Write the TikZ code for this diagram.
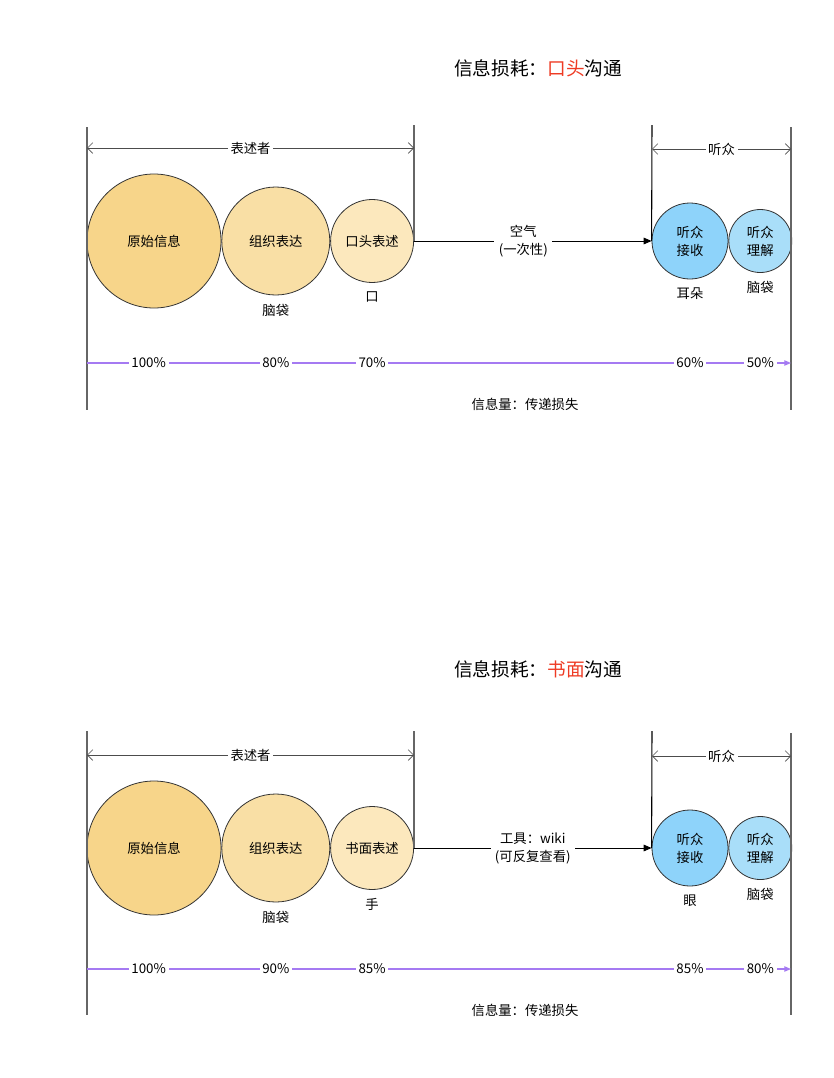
\documentclass[tikz,border=0pt]{standalone}
\usepackage{fontspec}
\setmainfont{Noto Sans CJK SC}
\usepackage{tikz}
\usetikzlibrary{arrows.meta, positioning}

\definecolor{sandA}{HTML}{F7D58A}
\definecolor{sandB}{HTML}{F9DFA5}
\definecolor{sandC}{HTML}{FCE8BD}
\definecolor{skyA}{HTML}{8ED3FA}
\definecolor{skyB}{HTML}{A9DEF9}
\definecolor{lossred}{HTML}{EE3B24}
\definecolor{lossline}{HTML}{A57AF2}

\begin{document}
\begin{tikzpicture}[
  x=0.75pt, y=-0.75pt,
  every node/.style={font=\fontsize{10}{13.5}\selectfont},
  bubble/.style={circle, draw=black!80, line width=0.6pt, inner sep=0pt, align=center},
  headline/.style={font=\fontsize{14}{17}\selectfont},
  guide/.style={black!60, line width=0.8pt},
  span/.style={{Straight Barb[length=4pt]}-{Straight Barb[length=4pt]}, black!70, line width=0.5pt},
  spantext/.style={fill=white, text=black, inner sep=2pt},
  arrow/.style={-{Triangle[length=6pt, width=5pt]}, line width=0.7pt},
  flow/.style={-{Triangle[length=5pt, width=4pt]}, draw=lossline, line width=0.9pt},
  pct/.style={fill=white, inner sep=2pt},
]
\useasboundingbox (0,0) rectangle (834,1078);

% ---------------- Oral communication ----------------
\node[headline] (head1) at (538,68) {信息损耗：\textcolor{lossred}{口头}沟通};

% Speaker side
\node[bubble, fill=sandA, minimum size=100.5pt] (src1) at (154,241) {原始信息};
\node[bubble, fill=sandB, minimum size=81pt, right=0pt of src1] (org1) {组织表达};
\node[bubble, fill=sandC, minimum size=62.25pt, right=0pt of org1] (say1) {口头表述};

% Listener side
\node[bubble, fill=skyA, minimum size=57pt] (recv1) at (690,241) {听众\\接收};
\node[bubble, fill=skyB, minimum size=47.25pt, right=0pt of recv1] (und1) {听众\\理解};

% Organ labels
\node[below=3pt of org1] {脑袋};
\node[below=3pt of say1] {口};
\node[below=3pt of recv1] {耳朵};
\node[below=3pt of und1] {脑袋};

% Guides
\coordinate (l1top) at (87,127);
\coordinate (l1bot) at (87,410);
\coordinate (r1top) at (791,127);
\coordinate (r1bot) at (791,410);
\coordinate (m1top) at (414,125);
\coordinate (n1top) at (652,125);
\draw[guide] (l1top) -- (l1bot);
\draw[guide] (r1top) -- (r1bot);
\draw[guide] (m1top) -- (say1.east);
\draw[guide, black] (n1top) -- (recv1.west);

% Spans
\coordinate (s1a) at (87,148);
\coordinate (s1b) at (414,148);
\coordinate (t1a) at (652,149);
\coordinate (t1b) at (791,149);
\draw[span] (s1a) -- node[spantext] {表述者} (s1b);
\draw[span] (t1a) -- node[spantext] {听众} (t1b);

% Channel
\draw[arrow] (say1) -- node[pos=0.46, fill=white, align=center] {空气\\(一次性)} (recv1);

% Amount of information
\coordinate (p1a) at (87,363);
\coordinate (p1b) at (791,363);
\draw[flow] (p1a) -- (p1b);
\node[pct, xshift=-4pt] at (src1 |- p1a) {100\%};
\node[pct] at (org1 |- p1a) {80\%};
\node[pct] at (say1 |- p1a) {70\%};
\node[pct] at (recv1 |- p1a) {60\%};
\node[pct] at (und1 |- p1a) {50\%};
\node (cap1) at (525,404) {信息量：传递损失};

% ---------------- Written communication ----------------
\node[headline] (head2) at (538,669) {信息损耗：\textcolor{lossred}{书面}沟通};

\begin{scope}[shift={(0,607)}]
% Speaker side
\node[bubble, fill=sandA, minimum size=100.5pt] (src2) at (154,241) {原始信息};
\node[bubble, fill=sandB, minimum size=81pt, right=0pt of src2] (org2) {组织表达};
\node[bubble, fill=sandC, minimum size=62.25pt, right=0pt of org2] (say2) {书面表述};

% Listener side
\node[bubble, fill=skyA, minimum size=57pt] (recv2) at (690,241) {听众\\接收};
\node[bubble, fill=skyB, minimum size=47.25pt, right=0pt of recv2] (und2) {听众\\理解};

% Organ labels
\node[below=3pt of org2] {脑袋};
\node[below=3pt of say2] {手};
\node[below=3pt of recv2] {眼};
\node[below=3pt of und2] {脑袋};

% Guides
\coordinate (l2top) at (87,124);
\coordinate (l2bot) at (87,408);
\coordinate (r2top) at (791,126);
\coordinate (r2bot) at (791,408);
\coordinate (m2top) at (414,124);
\coordinate (n2top) at (652,124);
\draw[guide] (l2top) -- (l2bot);
\draw[guide] (r2top) -- (r2bot);
\draw[guide] (m2top) -- (say2.east);
\draw[guide, black] (n2top) -- (recv2.west);

% Spans
\coordinate (s2a) at (87,148);
\coordinate (s2b) at (414,148);
\coordinate (t2a) at (652,149);
\coordinate (t2b) at (791,149);
\draw[span] (s2a) -- node[spantext] {表述者} (s2b);
\draw[span] (t2a) -- node[spantext] {听众} (t2b);

% Channel
\draw[arrow] (say2) -- node[fill=white, align=center] {工具：wiki\\(可反复查看)} (recv2);

% Amount of information
\coordinate (p2a) at (87,362);
\coordinate (p2b) at (791,362);
\draw[flow] (p2a) -- (p2b);
\node[pct, xshift=-4pt] at (src2 |- p2a) {100\%};
\node[pct] at (org2 |- p2a) {90\%};
\node[pct] at (say2 |- p2a) {85\%};
\node[pct] at (recv2 |- p2a) {85\%};
\node[pct] at (und2 |- p2a) {80\%};
\node (cap2) at (525,403) {信息量：传递损失};
\end{scope}

\end{tikzpicture}
\end{document}
